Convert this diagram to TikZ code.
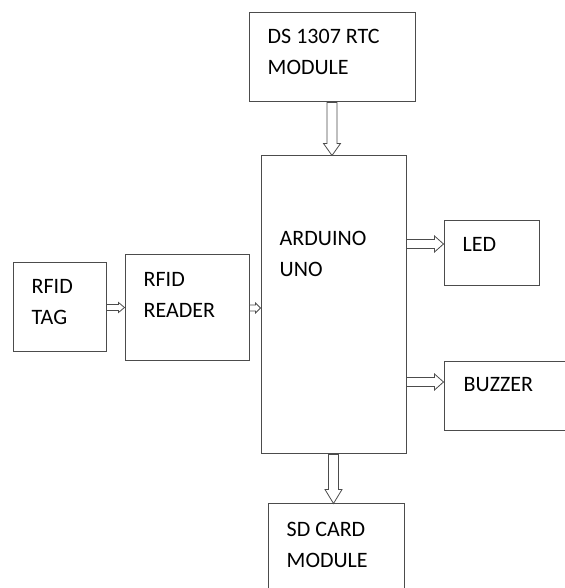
\documentclass[tikz,border=0pt]{standalone}
\usepackage{fontspec}
\setmainfont{Carlito}
\usetikzlibrary{calc}

\tikzset{
  block/.style n args={2}{draw=black!70, line width=1pt, minimum width=#1, minimum height=#2, inner sep=0pt},
  blocktext/.style={anchor=north west, align=left, inner sep=0pt, font=\fontsize{22}{31}\selectfont},
  % hollow block arrow: half shaft, half head, head length
  blockarrow/.style n args={3}{draw=black!70, line width=0.8pt, fill=white,
    to path={let \p1=(\tikztostart), \p2=(\tikztotarget), \p3=($(\p2)!#3!(\p1)$) in
      ($(\p1)!#1!90:(\p2)$) -- ($(\p3)!#1!90:(\p2)$) -- ($(\p3)!#2!90:(\p2)$) -- (\p2)
      -- ($(\p3)!#2!-90:(\p2)$) -- ($(\p3)!#1!-90:(\p2)$) -- ($(\p1)!#1!-90:(\p2)$) -- cycle}}
}

\begin{document}
\begin{tikzpicture}[x=1pt,y=1pt]
  \useasboundingbox (0,0) rectangle (564,588);
  % Blocks.
  \node[block={166pt}{89pt}, label={[blocktext, xshift=19pt, yshift=-17pt]north west:DS 1307 RTC\\MODULE}] (rtc) at (332,530.5) {};
  \node[block={145pt}{298pt}, label={[blocktext, xshift=19pt, yshift=-76pt]north west:ARDUINO\\UNO}] (uno) at (333.5,283) {};
  \node[block={93pt}{89pt}, label={[blocktext, xshift=19pt, yshift=-17pt]north west:RFID\\TAG}] (tag) at (59.5,280.5) {};
  \node[block={124pt}{106pt}, label={[blocktext, xshift=19pt, yshift=-18pt]north west:RFID\\READER}] (reader) at (187,280) {};
  \node[block={95pt}{65pt}, label={[blocktext, xshift=19pt, yshift=-17pt]north west:LED}] (led) at (491.5,334.5) {};
  \node[block={128pt}{69pt}, label={[blocktext, xshift=20pt, yshift=-16pt]north west:BUZZER}] (buzzer) at (508,191.5) {};
  \node[block={136pt}{96pt}, label={[blocktext, xshift=19pt, yshift=-19pt]north west:SD CARD\\MODULE}] (sd) at (336,36) {};
  % Arrow ends on the right side.
  \coordinate (ledin) at ([yshift=9.5pt]led.west);
  \coordinate (buzin) at ([yshift=14.5pt]buzzer.west);
  % Connections.
  \draw[blockarrow={5pt}{8.5pt}{12pt}] (rtc.south) to (rtc.south |- uno.north);
  \draw[blockarrow={3pt}{5pt}{6pt}] (tag.east) to (tag.east -| reader.west);
  \draw[blockarrow={3pt}{5pt}{5pt}] (reader.east) to (reader.east -| uno.west);
  \draw[blockarrow={4.5pt}{8pt}{9pt}] (uno.east |- ledin) to (ledin);
  \draw[blockarrow={4.5pt}{8pt}{9pt}] (uno.east |- buzin) to (buzin);
  \draw[blockarrow={5pt}{8.5pt}{14pt}] (uno.south) to (uno.south |- sd.north);
\end{tikzpicture}
\end{document}
